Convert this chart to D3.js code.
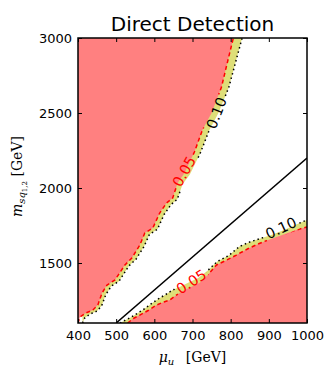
<!DOCTYPE html>
<html>
<head>
<meta charset="utf-8">
<script src="https://cdn.jsdelivr.net/npm/d3@7"></script>
<style>
  body { margin: 0; background: #fff; }
  text { font-family: "DejaVu Sans", sans-serif; }
  .math { font-family: "DejaVu Serif", serif; }
</style>
</head>
<body>
<div id="chart"></div>
<script>
// contour 0.05 (red edge) and 0.10 (yellow edge), upper branch  [mu_u, m_sq]
const upper05 = [[400,1100],[405,1140],[421,1167],[439,1187],[452,1220],[463,1300],[476,1353],[497,1387],
  [523,1487],[541,1533],[562,1620],[575,1700],[596,1733],[614,1833],[632,1900],[648,1933],[661,2033],
  [679,2100],[705,2240],[726,2387],[750,2500],[776,2673],[791,2833],[807,3000]];
const upper10 = [[412,1100],[418,1135],[432,1160],[450,1180],[462,1215],[473,1290],[487,1345],[508,1380],
  [533,1480],[552,1525],[573,1610],[587,1690],[608,1725],[626,1825],[644,1890],[660,1925],[674,2025],
  [693,2090],[720,2230],[743,2380],[768,2500],[795,2670],[812,2830],[830,3000]];
// lower branch
const lower05 = [[530,1100],[545,1130],[562,1153],[585,1185],[606,1220],[625,1240],[640,1253],[660,1290],
  [674,1313],[700,1345],[718,1367],[740,1420],[763,1487],[790,1520],[815,1553],[845,1595],[875,1630],
  [905,1660],[935,1687],[965,1715],[1000,1740]];
const lower10 = [[510,1100],[540,1140],[570,1187],[590,1225],[614,1267],[630,1290],[648,1320],[666,1340],
  [690,1370],[715,1400],[740,1450],[765,1510],[795,1550],[823,1610],[850,1640],[880,1665],[910,1690],
  [940,1720],[970,1755],[1000,1787]];
// diagonal reference line
const diagLine = [[500,1100],[1000,2200]];
// contour labels: [mu, m, text, level, angle]
const contourLabels = [[678,2110,"0.05","05",-61],[763,2500,"0.10","10",-69],[697,1375,"0.05","05",-33],[932,1733,"0.10","10",-25]];
const xTicks = [400,500,600,700,800,900,1000];
const yTicks = [1500,2000,2500,3000];

const W = 327, H = 381;
const margin = {top: 38, right: 20, bottom: 58, left: 78};
const width = W - margin.left - margin.right,
      height = H - margin.top - margin.bottom;

const svg = d3.select("#chart").append("svg").attr("width", W).attr("height", H);
const g = svg.append("g").attr("transform", `translate(${margin.left},${margin.top})`);

const x = d3.scaleLinear().domain([400, 1000]).range([0, width]);
const y = d3.scaleLinear().domain([1100, 3000]).range([height, 0]);

g.append("defs").append("clipPath").attr("id", "clip")
  .append("rect").attr("width", width).attr("height", height);

const area = g.append("g").attr("clip-path", "url(#clip)");
const poly = pts => "M" + pts.map(p => x(p[0]) + "," + y(p[1])).join("L") + "Z";

const RED = "#ff8080", YEL = "#dede78";
// upper-left region: fill from top-left corner
area.append("path").attr("d", poly([[400,3000]].concat(upper10))).attr("fill", YEL);
area.append("path").attr("d", poly([[400,3000]].concat(upper05))).attr("fill", RED);
// lower-right region
area.append("path").attr("d", poly(lower10.concat([[1000,1100]]))).attr("fill", YEL);
area.append("path").attr("d", poly(lower05.concat([[1000,1100]]))).attr("fill", RED);

// mask out the contour lines under labels
const mask = g.append("defs").append("mask").attr("id", "lblmask");
mask.append("rect").attr("x", -10).attr("y", -10).attr("width", width + 20).attr("height", height + 20).attr("fill", "white");
contourLabels.forEach(d => {
  mask.append("rect").attr("x", -18).attr("y", -8).attr("width", 36).attr("height", 16).attr("fill", "black")
    .attr("transform", `translate(${x(d[0])},${y(d[1])}) rotate(${d[4]})`);
});

const line = d3.line().x(p => x(p[0])).y(p => y(p[1]));
const lines = area.append("g").attr("mask", "url(#lblmask)");
[upper05, lower05].forEach(pts => lines.append("path").attr("d", line(pts))
  .attr("fill", "none").attr("stroke", "#ff0000").attr("stroke-width", 1.5).attr("stroke-dasharray", "4,3"));
[upper10, lower10].forEach(pts => lines.append("path").attr("d", line(pts))
  .attr("fill", "none").attr("stroke", "#000").attr("stroke-width", 1.5).attr("stroke-dasharray", "1.5,3"));

area.append("path").attr("d", line(diagLine)).attr("fill", "none").attr("stroke", "#000").attr("stroke-width", 1.5);

contourLabels.forEach(d => {
  g.append("text").attr("transform", `translate(${x(d[0])},${y(d[1])}) rotate(${d[4]})`)
    .attr("text-anchor", "middle").attr("dy", "0.35em").attr("font-size", 14.5)
    .attr("fill", d[3] === "05" ? "#ff0000" : "#000").text(d[2]);
});

// axes with inward ticks on all sides
const ax = (gen, tr) => g.append("g").attr("transform", tr).call(gen)
  .call(s => s.select(".domain").remove())
  .call(s => s.selectAll("line").attr("stroke", "#000").attr("stroke-width", 1));
ax(d3.axisBottom(x).tickValues(xTicks).tickSize(-4).tickPadding(8).tickFormat(d3.format("d")), `translate(0,${height})`)
  .selectAll("text").attr("font-size", 13).attr("fill", "#000");
ax(d3.axisTop(x).tickValues(xTicks).tickSize(-4).tickFormat(""), "translate(0,0)");
ax(d3.axisLeft(y).tickValues(yTicks).tickSize(-4).tickPadding(6).tickFormat(d3.format("d")), "translate(0,0)")
  .selectAll("text").attr("font-size", 13).attr("fill", "#000");
ax(d3.axisRight(y).tickValues(yTicks).tickSize(-4).tickFormat(""), `translate(${width},0)`);

g.append("rect").attr("width", width).attr("height", height)
  .attr("fill", "none").attr("stroke", "#000").attr("stroke-width", 1.5);

// title
svg.append("text").attr("x", margin.left + width / 2).attr("y", 31).attr("text-anchor", "middle")
  .attr("font-size", 20).text("Direct Detection");

// x label: mu_u [GeV]
const xl = svg.append("text").attr("class", "math").attr("x", margin.left + width / 2).attr("y", 362)
  .attr("text-anchor", "middle").attr("font-size", 14);
xl.append("tspan").attr("font-style", "italic").text("μ");
xl.append("tspan").attr("font-style", "italic").attr("font-size", 10).attr("dy", 3).text("u");
xl.append("tspan").attr("dy", -3).text("\u2002 [GeV]");

// y label: m_{sq_{1,2}} [GeV]
const yl = svg.append("text").attr("class", "math")
  .attr("transform", `translate(22,${margin.top + height / 2 - 4}) rotate(-90)`)
  .attr("text-anchor", "middle").attr("font-size", 14);
yl.append("tspan").attr("font-style", "italic").text("m");
yl.append("tspan").attr("font-style", "italic").attr("font-size", 10).attr("dy", 3).text("sq");
yl.append("tspan").attr("font-size", 7).attr("dy", 2).text("1,2");
yl.append("tspan").attr("dy", -5).text(" [GeV]");
</script>
</body>
</html>
